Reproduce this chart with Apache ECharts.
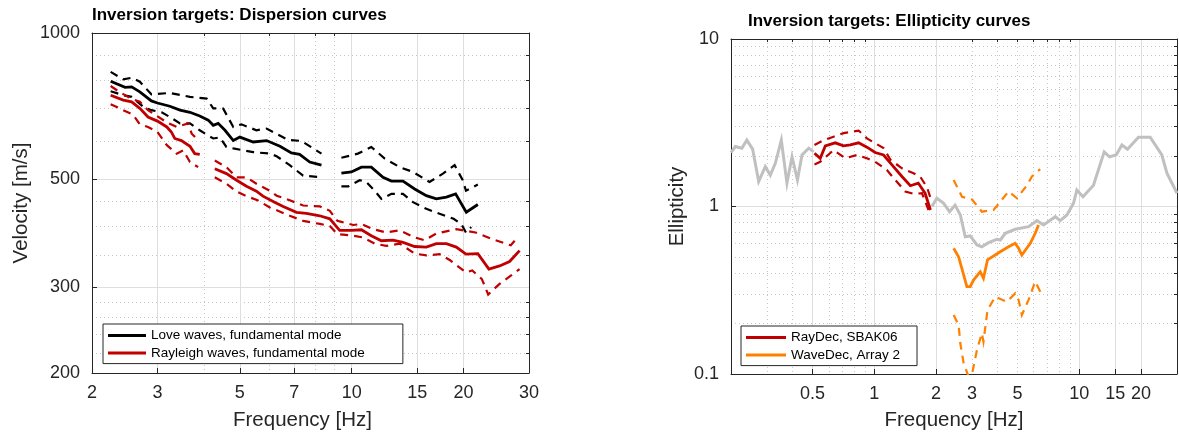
<!DOCTYPE html>
<html><head><meta charset="utf-8">
<script src="https://cdn.jsdelivr.net/npm/echarts@6/dist/echarts.min.js"></script>
<style>html,body{margin:0;padding:0;background:#fff}#c{width:1179px;height:439px}</style>
</head><body><div id="c"></div>
<script>
// ---------------- Dispersion curves (left) ----------------
const loveFreq = [2.245,2.455,2.557,2.69,2.89,3.0,3.24,3.45,3.67,3.90,4.11,4.24,4.37,4.56,4.80,5.0,5.43,5.90,6.41,6.88,7.24,7.71,8.29,8.8,9.38,9.98,10.62,11.29,12.14,12.79,13.74,14.77,15.88,16.89,17.98,19.04,20.34,21.85];
const loveVel  = [796,773,775,757,725,718,707,694,687,675,662,646,652,631,601,611,597,601,585,567,563,543,535,null,515,518,530,530,505,496,496,478,463,456,460,467,428,444];
const loveUpFreq = [2.245,2.427,2.557,2.69,2.89,3.24,3.67,4.07,4.24,4.51,4.80,5.05,5.54,5.90,6.74,7.32,8.29,8.8,9.38,10.39,11.29,12.27,13.46,14.62,16.2,17.6,18.92,19.9,20.3,21.85];
const loveUpVel  = [832,803,809,794,748,753,739,733,700,699,641,649,631,636,603,600,565,null,554,565,583,552,530,518,494,514,535,498,474,488];
const loveLoFreq = [2.245,2.427,2.557,2.75,2.89,3.08,3.24,3.45,3.67,3.90,4.03,4.24,4.42,4.60,4.80,5.43,6.02,6.28,6.81,7.40,8.29,8.8,9.38,9.8,10.51,10.95,11.53,12.02,12.79,13.74,14.62,15.88,17.24,18.8,19.72,20.3,20.97];
const loveLoVel  = [759,745,739,705,694,687,672,652,652,631,621,607,610,583,579,569,565,558,535,509,505,null,484,484,498,494,474,456,467,467,449,435,425,415,405,389,399];

const rayFreq = [2.245,2.427,2.557,2.69,2.83,3.0,3.18,3.27,3.34,3.48,3.67,3.78,3.90,4.1,4.28,4.60,4.90,5.21,5.54,5.77,6.2,6.54,7.10,7.55,8.2,8.73,9.28,9.98,10.62,11.29,12.02,12.91,13.74,14.77,15.88,16.89,17.98,19.12,20.3,21.85,23.4,25.0,26.6,28.3];
const rayVel  = [745,728,722,700,672,659,641,626,607,601,585,565,563,null,526,514,498,484,473,462,449,440,428,426,421,415,393,393,394,383,374,375,371,364,363,369,369,363,351,352,327,332,339,357];
const rayUpFreq = [2.245,2.35,2.53,2.69,2.83,2.92,3.18,3.38,3.63,3.71,3.82,4.1,4.28,4.60,4.90,5.21,5.54,6.02,6.28,6.81,7.40,8.21,8.73,9.15,9.38,10.1,10.62,11.43,12.38,13.46,14.77,15.7,16.89,19.12,21.54,23.9,26.8,27.7];
const rayUpVel  = [778,760,735,722,694,683,655,641,652,621,607,null,547,530,505,505,490,474,463,453,442,440,431,411,409,403,405,395,389,393,380,375,387,395,389,377,366,377];
const rayLoFreq = [2.245,2.427,2.58,2.69,2.83,3.0,3.18,3.38,3.52,3.67,3.86,4.1,4.28,4.60,4.90,5.21,5.58,6.02,6.81,7.40,8.21,8.73,9.15,10.1,10.7,11.53,12.38,13.46,14.77,15.88,17.24,18.4,20.3,21.1,22.4,23.3,25.0,26.8,28.3];
const rayLoVel  = [714,694,679,649,641,626,588,565,574,543,530,null,505,490,472,462,453,438,421,411,405,401,386,383,380,369,365,369,352,349,351,341,322,325,312,290,305,317,327];

const dispFreqLabels = [2,3,5,7,10,15,20,30];
const dispFreqMajor  = [2,3,5,7,10,15,20,30];
const dispFreqMinor  = [4,6,8,9];
const dispVelLabels  = [200,300,500,1000];
const dispVelMajor   = [200,300,500,1000];
const dispVelMinor   = [220,240,260,280,350,400,450,600,700,800,900];

// ---------------- Ellipticity curves (right) ----------------
const hvFreq = [0.2,0.21,0.226,0.239,0.255,0.273,0.294,0.311,0.329,0.352,0.375,0.397,0.422,0.444,0.479,0.506,1.0,1.91,2.02,2.18,2.33,2.48,2.63,2.78,2.94,3.17,3.35,3.61,3.97,4.12,4.36,4.87,5.66,6.22,6.70,7.64,8.08,8.71,9.38,9.74,10.43,11.74,13.24,14.06,15.15,16.16,17.2,19.46,22.2,25.3,26.8,30];
const hvEll  = [2.10,2.28,2.23,2.49,2.20,1.41,1.73,1.54,1.81,2.49,1.38,1.98,1.44,2.03,2.23,2.12,null,1.0,1.12,1.045,0.931,1.02,0.89,0.66,0.667,0.589,0.575,0.608,0.637,0.631,0.692,0.731,0.758,0.823,0.775,0.869,0.823,0.89,1.045,1.254,1.144,1.34,2.12,1.98,2.03,2.33,2.20,2.59,2.59,2.03,1.58,1.20];

const rdFreq = [0.511,0.545,0.577,0.645,0.708,0.764,0.839,0.921,1.01,1.11,1.22,1.365,1.50,1.64,1.77,1.88];
const rdEll  = [2.08,1.94,2.30,2.40,2.30,2.33,2.40,2.26,2.10,2.03,1.77,1.51,1.33,1.38,1.20,0.953];
const rdUpFreq = [0.511,0.566,0.633,0.708,0.839,0.921,1.11,1.20,1.365,1.555,1.68,1.81,1.91];
const rdUpEll  = [2.33,2.49,2.61,2.74,2.84,2.55,2.23,1.90,1.69,1.58,1.50,1.30,1.06];
const rdLoFreq = [0.511,0.545,0.633,0.722,0.823,0.921,1.01,1.153,1.266,1.416,1.555,1.71,1.84];
const rdLoEll  = [1.78,1.85,2.17,1.94,2.03,1.94,1.85,1.65,1.44,1.23,1.19,1.20,0.953];

const wdFreq = [2.44,2.58,2.73,2.83,2.94,3.05,3.29,3.41,3.57,3.89,4.12,4.52,4.87,5.06,5.25,5.77,6.10,6.33];
const wdEll  = [0.563,0.50,0.39,0.332,0.332,0.364,0.408,0.373,0.48,0.513,0.537,0.575,0.603,0.563,0.513,0.603,0.692,0.775];
const wdUpFreq = [2.44,2.68,3.0,3.35,3.82,4.12,4.52,4.97,5.56,5.88,6.45];
const wdUpEll  = [1.44,1.144,1.10,0.931,0.953,1.068,1.23,1.12,1.34,1.51,1.67];
const wdLoFreq = [2.44,2.58,2.63,2.73,2.88,3.0,3.17,3.35,3.41,3.57,3.89,4.44,4.87,5.06,5.25,5.66,6.10,6.46];
const wdLoEll  = [0.225,0.196,0.152,0.116,0.097,0.1,0.139,0.175,0.156,0.241,0.289,0.27,0.303,0.277,0.225,0.277,0.356,0.31];

const ellFreqLabels = [0.5,1,2,3,5,10,15,20];
const ellFreqMajor  = [0.5,1,2,10,15,20];
const ellFreqMinor  = [0.3,0.4,0.6,0.7,0.8,0.9,3,4,5,6,7,8,9];
const ellLabels     = [0.1,1,10];
const ellMajor      = [0.1,1,10];
const ellMinor      = [0.2,0.3,0.4,0.5,0.6,0.7,0.8,0.9,2,3,4,5,6,7,8,9];

// ---------------- chart ----------------
const FONT = "'Liberation Sans', Arial, Helvetica, sans-serif";
const AX = '#262626';
const RED = '#c00000', ORANGE = '#ff8000', GRAY = '#c0c0c0';
const pairs = (xs, ys) => xs.map((x, i) => [x, ys[i]]);
const fmt = v => String(+(+v).toPrecision(6));

function mainAxis(kind, gridIndex, min, max, labels, major, name, nameGap, pos, namePad) {
  return {
    type: 'log', logBase: 10, gridIndex, min, max, position: pos,
    name, nameLocation: 'middle', nameGap,
    nameTextStyle: {fontSize: 20.5, color: AX, fontFamily: FONT, padding: namePad || 0},
    axisLine: {show: true, lineStyle: {color: AX, width: 1}},
    axisTick: {show: true, inside: true, length: 5, customValues: major, lineStyle: {color: AX, width: 1}},
    axisLabel: {show: true, customValues: labels, margin: kind === 'x' ? 11 : 12, fontSize: 18, color: AX, fontFamily: FONT, formatter: fmt},
    splitLine: {show: true, lineStyle: {color: '#dedede', width: 1, type: 'solid'}},
    minorTick: {show: false}, minorSplitLine: {show: false}
  };
}
function minorAxis(gridIndex, min, max, minor, pos) {
  return {
    type: 'log', logBase: 10, gridIndex, min, max, position: pos,
    axisLine: {show: true, lineStyle: {color: AX, width: 1}},
    axisTick: {show: true, inside: true, length: 3, customValues: minor, lineStyle: {color: AX, width: 1}},
    axisLabel: {show: false},
    splitLine: {show: true, lineStyle: {color: '#c8c8c8', width: 1, type: [1, 3]}},
    minorTick: {show: false}, minorSplitLine: {show: false}
  };
}
function line(name, xs, ys, color, width, dashed, xi, yi, z) {
  return {
    type: 'line', name, data: pairs(xs, ys), xAxisIndex: xi, yAxisIndex: yi,
    symbol: 'none', showSymbol: false, connectNulls: false, silent: true, z: z || 2,
    itemStyle: {color}, clip: true,
    lineStyle: {color, width, type: dashed ? [8, 6] : 'solid', cap: 'butt', join: 'miter'}
  };
}

const chart = echarts.init(document.getElementById('c'), null, {renderer: 'canvas'});
chart.setOption({
  animation: false,
  backgroundColor: '#ffffff',
  title: [
    {text: 'Inversion targets: Dispersion curves', left: 92, top: 7, padding: 0,
     textStyle: {fontSize: 17, fontWeight: 'bold', color: '#000', fontFamily: FONT}},
    {text: 'Inversion targets: Ellipticity curves', left: 748, top: 13, padding: 0,
     textStyle: {fontSize: 17, fontWeight: 'bold', color: '#000', fontFamily: FONT}}
  ],
  grid: [
    {left: 92, top: 33, width: 437, height: 340, containLabel: false},
    {left: 731, top: 39, width: 446, height: 335, containLabel: false}
  ],
  xAxis: [
    mainAxis('x', 0, 2, 30, dispFreqLabels, dispFreqMajor, 'Frequency [Hz]', 37, 'bottom', [0, 16, 0, 0]),
    minorAxis(0, 2, 30, dispFreqMinor, 'top'),
    mainAxis('x', 1, 0.2, 30, ellFreqLabels, ellFreqMajor, 'Frequency [Hz]', 36, 'bottom'),
    minorAxis(1, 0.2, 30, ellFreqMinor, 'top')
  ],
  yAxis: [
    mainAxis('y', 0, 200, 1000, dispVelLabels, dispVelMajor, 'Velocity [m/s]', 60, 'left'),
    minorAxis(0, 200, 1000, dispVelMinor, 'right'),
    mainAxis('y', 1, 0.1, 10, ellLabels, ellMajor, 'Ellipticity', 43, 'left'),
    minorAxis(1, 0.1, 10, ellMinor, 'right')
  ],
  legend: [
    {orient: 'vertical', left: 103, top: 324, padding: [4, 38, 3, 5], itemGap: 2.6,
     itemWidth: 38, itemHeight: 3, icon: 'rect', borderColor: AX, borderWidth: 1, backgroundColor: '#fff',
     textStyle: {fontSize: 13.5, color: '#000', fontFamily: FONT, lineHeight: 15},
     data: ['Love waves, fundamental mode', 'Rayleigh waves, fundamental mode'], selectedMode: false},
    {orient: 'vertical', left: 741, top: 326, padding: [4, 17, 3, 5], itemGap: 2.6,
     itemWidth: 40, itemHeight: 3, icon: 'rect', borderColor: AX, borderWidth: 1, backgroundColor: '#fff',
     textStyle: {fontSize: 13.5, color: '#000', fontFamily: FONT, lineHeight: 15},
     data: ['RayDec, SBAK06', 'WaveDec, Array 2'], selectedMode: false}
  ],
  series: [
    line('Love waves, fundamental mode', loveFreq, loveVel, '#000', 2.8, false, 0, 0),
    line('Love upper', loveUpFreq, loveUpVel, '#000', 2.2, true, 0, 0),
    line('Love lower', loveLoFreq, loveLoVel, '#000', 2.2, true, 0, 0),
    line('Rayleigh waves, fundamental mode', rayFreq, rayVel, RED, 2.8, false, 0, 0),
    line('Rayleigh upper', rayUpFreq, rayUpVel, RED, 2.2, true, 0, 0),
    line('Rayleigh lower', rayLoFreq, rayLoVel, RED, 2.2, true, 0, 0),
    line('H/V', hvFreq, hvEll, GRAY, 3, false, 2, 2),
    line('RayDec, SBAK06', rdFreq, rdEll, RED, 2.8, false, 2, 2, 3),
    line('RayDec upper', rdUpFreq, rdUpEll, RED, 2.2, true, 2, 2, 3),
    line('RayDec lower', rdLoFreq, rdLoEll, RED, 2.2, true, 2, 2, 3),
    line('WaveDec, Array 2', wdFreq, wdEll, ORANGE, 2.8, false, 2, 2, 3),
    line('WaveDec upper', wdUpFreq, wdUpEll, ORANGE, 2.2, true, 2, 2, 3),
    line('WaveDec lower', wdLoFreq, wdLoEll, ORANGE, 2.2, true, 2, 2, 3)
  ]
});
</script>
</body></html>
